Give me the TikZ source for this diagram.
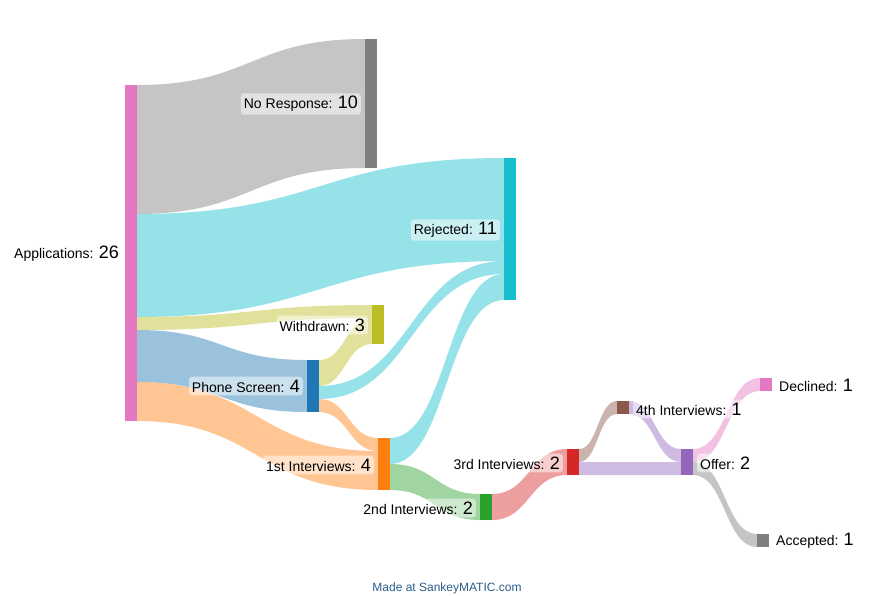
\documentclass[tikz,border=0pt]{standalone}
\usepackage{fontspec}
\setmainfont{Liberation Sans}
\begin{document}
\begin{tikzpicture}[x=1pt,y=-1pt,
  nd/.style={inner sep=0pt,outer sep=0pt,draw=none},
  lbl/.style={font=\fontsize{14}{16}\selectfont,fill=white,fill opacity=0.5,text opacity=1,rounded corners=3pt,inner sep=3pt},
  lblp/.style={font=\fontsize{14}{16}\selectfont,inner sep=3pt}]
\useasboundingbox (0,0) rectangle (884,595);
\definecolor{cblue}{HTML}{1F77B4}\definecolor{corange}{HTML}{FF7F0E}
\definecolor{cgreen}{HTML}{2CA02C}\definecolor{cred}{HTML}{D62728}
\definecolor{cpurple}{HTML}{9467BD}\definecolor{cbrown}{HTML}{8C564B}
\definecolor{cpink}{HTML}{E377C2}\definecolor{cgray}{HTML}{7F7F7F}
\definecolor{colive}{HTML}{BCBD22}\definecolor{ccyan}{HTML}{17BECF}
\definecolor{cfoot}{HTML}{2A5C8A}
\newcommand\flow[7]{%
  \pgfmathsetmacro\xm{(#1+#4)/2}%
  \fill[#7,fill opacity=0.45] (#1,#2) .. controls (\xm,#2) and (\xm,#5) .. (#4,#5) -- (#4,#6) .. controls (\xm,#6) and (\xm,#3) .. (#1,#3) -- cycle;}
% flows
\flow{137}{85}{214}{365}{39}{168}{cgray}
\flow{137}{214}{317}{504}{158}{261}{ccyan}
\flow{137}{317}{330}{372}{305}{318}{colive}
\flow{137}{330}{382}{307}{360}{412}{cblue}
\flow{137}{382}{421}{378}{451}{490}{corange}
\flow{319}{360}{386}{372}{318}{344}{colive}
\flow{319}{386}{399}{504}{261}{274}{ccyan}
\flow{319}{399}{412}{378}{438}{451}{corange}
\flow{390}{438}{464}{504}{274}{300}{ccyan}
\flow{390}{464}{490}{480}{494}{520}{cgreen}
\flow{492}{494}{520}{567}{449}{475}{cred}
\flow{579}{449}{462}{617}{401}{414}{cbrown}
\flow{579}{462}{475}{681}{462}{475}{cpurple}
\flow{629}{401}{414}{681}{449}{462}{cpurple}
\flow{693}{449}{462}{760}{378}{391}{cpink}
\flow{693}{462}{475}{757}{534}{547}{cgray}
% nodes
\fill[cpink] (125,85) rectangle (137,421) coordinate (app);
\fill[cgray] (365,39) rectangle (377,168);
\fill[ccyan] (504,158) rectangle (516,300);
\fill[colive] (372,305) rectangle (384,344);
\fill[cblue] (307,360) rectangle (319,412);
\fill[corange] (378,438) rectangle (390,490);
\fill[cgreen] (480,494) rectangle (492,520);
\fill[cred] (567,449) rectangle (579,475);
\fill[cbrown] (617,401) rectangle (629,414);
\fill[cpurple] (681,449) rectangle (693,475);
\fill[cpink] (760,378) rectangle (772,391);
\fill[cgray] (757,534) rectangle (769,547);
% labels
\node[lblp,anchor=east] (lapp) at (122,254) {Applications: \fontsize{18}{18}\selectfont 26};
\node[lbl,anchor=east] (lnr) at (361,104) {No Response: \fontsize{18}{18}\selectfont 10};
\node[lbl,anchor=east] (lrej) at (500,230) {Rejected: \fontsize{18}{18}\selectfont 11};
\node[lbl,anchor=east] (lw) at (368,325) {Withdrawn: \fontsize{18}{18}\selectfont 3};
\node[lbl,anchor=east] (lps) at (303,386) {Phone Screen: \fontsize{18}{18}\selectfont 4};
\node[lbl,anchor=east] (l1) at (374,465) {1st Interviews: \fontsize{18}{18}\selectfont 4};
\node[lbl,anchor=east] (l2) at (476,508) {2nd Interviews: \fontsize{18}{18}\selectfont 2};
\node[lbl,anchor=east] (l3) at (563,463) {3rd Interviews: \fontsize{18}{18}\selectfont 2};
\node[lbl,anchor=west] (l4) at (633,409) {4th Interviews: \fontsize{18}{18}\selectfont 1};
\node[lbl,anchor=west] (lo) at (697,463) {Offer: \fontsize{18}{18}\selectfont 2};
\node[lblp,anchor=west] (ld) at (776,385) {Declined: \fontsize{18}{18}\selectfont 1};
\node[lblp,anchor=west] (la) at (773,541) {Accepted: \fontsize{18}{18}\selectfont 1};
\node[text=cfoot,font=\fontsize{12}{14}\selectfont] (foot) at (447,588) {Made at SankeyMATIC.com};
\end{tikzpicture}
\end{document}
